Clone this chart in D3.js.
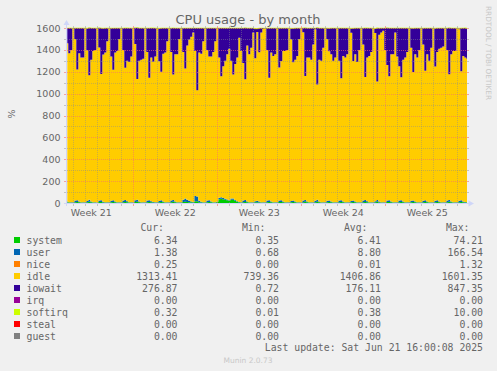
<!DOCTYPE html>
<html><head><meta charset="utf-8">
<script src="https://cdn.jsdelivr.net/npm/d3@7"></script>
<style>html,body{margin:0;padding:0;background:#F0F0F0;}svg{display:block;}</style>
</head><body>
<svg id="chart" width="497" height="371"></svg>
<script>
// ---- data ----
const titleText = "CPU usage - by month";
const yAxisLabel = "%";
const sampleStart = Date.UTC(2025, 4, 20, 12, 0); // first sample, 4-hour steps
const sampleStepHours = 4;
const viewStart = Date.UTC(2025, 4, 20, 11, 24);
const viewEnd = Date.UTC(2025, 5, 22, 19, 24);
const yMax = 1600;
const yTicks = [0, 200, 400, 600, 800, 1000, 1200, 1400, 1600];
const weekLabelPrefix = "Week ";

const system = [
 6,4,3,
 3,8,10,6,4,3,  3,7,11,6,4,3,  2,9,10,5,4,3,  3,8,9,6,4,3,  3,8,10,7,4,3,
 3,9,12,6,4,3,  3,8,10,6,5,3,  3,7,10,6,4,3,  3,8,11,6,4,3,  3,10,12,10,8,6,
 5,15,15,8,5,4,  3,8,10,6,4,3,  10,35,40,35,30,25,  20,30,30,20,10,5,  3,8,10,6,4,3,
 3,6,8,5,4,3,  3,8,10,6,4,3,  3,9,10,6,4,3,  3,7,9,6,4,3,  3,8,11,6,4,3,
 3,7,12,6,4,3,  3,8,9,6,4,3,  3,8,10,6,4,3,  3,7,9,6,4,3,  3,8,10,7,4,3,
 3,6,11,5,4,3,  3,9,10,6,4,3,  3,8,10,6,4,3,  3,8,9,6,4,3,  3,7,10,6,4,3,
 3,8,10,6,4,3,  3,8,11,6,4,3,  3,7,10,6,5,6
];
const user = [
 8,4,3,
 3,14,16,8,4,3,  3,12,18,8,4,3,  3,15,15,7,4,3,  3,13,16,8,4,3,  3,14,17,8,4,3,
 3,16,18,8,4,3,  3,14,16,9,4,3,  3,12,15,8,4,3,  3,14,16,8,4,3,  3,20,30,20,12,8,
 5,50,45,12,6,4,  3,14,16,8,4,3,  4,12,12,10,8,6,  6,12,12,8,6,4,  3,14,18,8,4,3,
 3,10,12,8,4,3,  3,14,16,8,4,3,  3,13,15,8,4,3,  3,12,14,8,4,3,  3,15,17,8,4,3,
 3,14,18,8,4,3,  3,13,15,8,4,3,  3,14,16,8,4,3,  3,12,15,8,4,3,  3,14,17,8,4,3,
 3,11,16,8,4,3,  3,15,16,8,4,3,  3,14,16,8,4,3,  3,13,15,8,4,3,  3,14,16,8,4,3,
 3,12,16,8,4,3,  3,14,17,8,4,3,  3,13,15,8,4,1
];
const idle = [
 1446,1362,1394,
 1592,1478,1194,1356,1322,1324,  1592,1378,1139,1296,1382,1394,  1592,1398,1154,1346,1367,1474,
 1592,1318,1194,1361,1382,1494,  1592,1378,1209,1286,1282,1334,  1592,1428,1104,1286,1302,1314,
 1592,1358,1119,1316,1282,1334,  1592,1278,1174,1351,1367,1474,  1592,1358,1149,1346,1352,1494,
 1592,1350,1188,1410,1475,1506,  1550,1325,970,1355,1354,1472,   1592,1378,1314,1326,1372,1474,
 1584,1283,1108,1205,1262,1329,  1384,1258,1133,1242,1314,1501,  1384,1258,1104,1426,1352,1414,
 1554,1308,1544,1366,1552,1584,  1592,1378,1119,1361,1337,1354,  1592,1218,1274,1376,1382,1394,
 1592,1478,1264,1296,1337,1494,  1592,1538,1134,1316,1322,1304,  1444,1568,1054,1296,1292,1414,
 1592,1478,1364,1346,1292,1324,  1592,1278,1114,1331,1322,1354,  1592,1538,1274,1346,1282,1394,
 1592,1428,1124,1316,1337,1374,  1592,1538,1084,1526,1552,1569,  1394,1238,1134,1346,1352,1554,
 1334,1228,1124,1296,1322,1374,  1592,1398,1174,1346,1322,1394,  1592,1428,1184,1346,1292,1414,
 1592,1228,1354,1396,1412,1424,  1592,1378,1149,1346,1382,1384,  1592,1568,1179,1331,1322,1313
];
const iowait = [
 140,230,200,
 2,100,380,230,270,270,  2,200,435,290,210,200,  2,180,420,240,225,120,
 2,260,380,225,210,100,  2,200,365,300,310,260,  2,150,470,300,290,280,
 2,220,455,270,310,260,  2,300,400,235,225,120,  2,220,425,240,240,100,
 2,220,370,160,105,80,   40,210,570,225,235,120, 2,200,260,260,220,120,
 2,270,440,350,300,240,  190,300,425,330,270,90, 210,320,470,160,240,180,
 40,270,30,220,40,10,    2,200,455,225,255,240,  2,360,300,210,210,200,
 2,100,310,290,255,100,  2,40,440,270,270,290,   150,10,520,290,300,180,
 2,100,210,240,300,270,  2,300,460,255,270,240,  2,40,300,240,310,200,
 2,150,450,270,255,220,  2,40,490,60,40,25,      200,340,440,240,240,40,
 260,350,450,290,270,220, 2,180,400,240,270,200,  2,150,390,240,300,180,
 2,350,220,190,180,170,  2,200,425,240,210,210,  2,10,395,255,270,277
];
const softirq = [
 0.4,0.3,0.3,
 0.3,0.5,0.6,0.4,0.3,0.3,  0.3,0.5,0.7,0.4,0.3,0.3,  0.3,0.4,0.6,0.4,0.3,0.3,
 0.3,0.5,0.6,0.4,0.3,0.3,  0.3,0.5,0.5,0.4,0.3,0.3,  0.3,0.6,0.7,0.4,0.3,0.3,
 0.3,0.5,0.6,0.4,0.3,0.3,  0.3,0.4,0.6,0.4,0.3,0.3,  0.3,0.5,0.6,0.4,0.3,0.3,
 0.3,0.6,0.8,0.5,0.4,0.3,  0.3,0.9,0.9,0.5,0.3,0.3,  0.3,0.5,0.6,0.4,0.3,0.3,
 0.3,0.7,0.8,0.6,0.5,0.4,  0.4,0.6,0.6,0.5,0.3,0.3,  0.3,0.5,0.6,0.4,0.3,0.3,
 0.3,0.4,0.4,0.4,0.3,0.3,  0.3,0.5,0.6,0.4,0.3,0.3,  0.3,0.5,0.6,0.4,0.3,0.3,
 0.3,0.4,0.5,0.4,0.3,0.3,  0.3,0.5,0.6,0.4,0.3,0.3,  0.3,0.5,0.7,0.4,0.3,0.3,
 0.3,0.4,0.5,0.4,0.3,0.3,  0.3,0.5,0.6,0.4,0.3,0.3,  0.3,0.4,0.5,0.4,0.3,0.3,
 0.3,0.5,0.6,0.4,0.3,0.3,  0.3,0.4,0.6,0.4,0.3,0.3,  0.3,0.5,0.6,0.4,0.3,0.3,
 0.3,0.5,0.6,0.4,0.3,0.3,  0.3,0.5,0.6,0.4,0.3,0.3,  0.3,0.5,0.6,0.4,0.3,0.3,
 0.3,0.5,0.5,0.4,0.3,0.3,  0.3,0.5,0.6,0.4,0.3,0.3,  0.3,0.4,0.6,0.4,0.3,0.32
];

const legendNames  = ["system","user","nice","idle","iowait","irq","softirq","steal","guest"];
const legendColors = ["#00CC00","#0066B3","#FF8000","#FFCC00","#330099","#990099","#CCFF00","#FF0000","#808080"];
const curValues = ["6.34","1.38","0.25","1313.41","276.87","0.00","0.32","0.00","0.00"];
const minValues = ["0.35","0.68","0.00","739.36","0.72","0.00","0.01","0.00","0.00"];
const avgValues = ["6.41","8.80","0.01","1406.86","176.11","0.00","0.38","0.00","0.00"];
const maxValues = ["74.21","166.54","1.32","1601.35","847.35","0.00","10.00","0.00","0.00"];
const columnHeaders = ["Cur:","Min:","Avg:","Max:"];
const lastUpdateText = "Last update: Sat Jun 21 16:00:08 2025";
const versionText = "Munin 2.0.73";
const watermarkText = "RRDTOOL / TOBI OETIKER";

// ---- layout ----
const W = 497, H = 371;
const plot = {left: 67, right: 467, top: 28, bottom: 203};
const fontSans = "'DejaVu Sans', sans-serif";
const fontMono = "'DejaVu Sans Mono', monospace";
const fontColor = "#666666";
const axisColor = "#CFD6F8";
const gridColor = "rgba(140,140,140,0.45)";
const mgridColor = "rgba(244,110,110,0.6)";

const svg = d3.select("#chart");
svg.append("rect").attr("width", W).attr("height", H).attr("fill", "#F0F0F0");
svg.append("rect").attr("x", plot.left).attr("y", plot.top)
  .attr("width", plot.right - plot.left).attr("height", plot.bottom - plot.top).attr("fill", "#FFFFFF");

const x = d3.scaleUtc().domain([new Date(viewStart), new Date(viewEnd)]).range([plot.left, plot.right]);
const y = d3.scaleLinear().domain([0, yMax]).range([plot.bottom, plot.top]);

const stackKeys = ["system","user","idle","iowait","softirq"];
const stackColors = {system:"#00CC00", user:"#0066B3", idle:"#FFCC00", iowait:"#330099", softirq:"#CCFF00"};
const seriesData = {system, user, idle, iowait, softirq};
const rows = idle.map((_, i) => {
  const r = {t: new Date(sampleStart + i * sampleStepHours * 3600e3)};
  stackKeys.forEach(k => r[k] = seriesData[k][i]);
  return r;
});
const stacked = d3.stack().keys(stackKeys)(rows);

svg.append("clipPath").attr("id", "clip").append("rect")
  .attr("x", plot.left).attr("y", plot.top - 0.6)
  .attr("width", plot.right - plot.left).attr("height", plot.bottom - plot.top + 0.6);

const g = svg.append("g").attr("clip-path", "url(#clip)");
const area = d3.area().curve(d3.curveStep)
  .x(d => x(d.data.t)).y0(d => y(d[0])).y1(d => y(d[1]));
g.selectAll("path.layer").data(stacked).join("path")
  .attr("class", "layer")
  .attr("fill", d => stackColors[d.key])
  .attr("d", area);
// softirq is tiny; show its edge on top of the stack
const topLine = d3.line().curve(d3.curveStep).x(d => x(d.data.t)).y(d => y(d[1]));
g.append("path").datum(stacked[stacked.length - 1])
  .attr("fill", "none").attr("stroke", "#CCFF00").attr("stroke-width", 1)
  .attr("d", topLine);

// ---- grid ----
const grid = svg.append("g");
const hMinor = d3.range(0, yMax + 1, 100);
hMinor.forEach(v => {
  const major = yTicks.includes(v);
  const yy = Math.round(y(v)) + 0.5;
  const c = major ? mgridColor : gridColor;
  grid.append("line").attr("x1", plot.left).attr("x2", plot.right).attr("y1", yy).attr("y2", yy)
    .attr("stroke", c).attr("stroke-dasharray", "1,1");
  grid.append("line").attr("x1", plot.left - 3).attr("x2", plot.left).attr("y1", yy).attr("y2", yy).attr("stroke", c);
  grid.append("line").attr("x1", plot.right).attr("x2", plot.right + 2).attr("y1", yy).attr("y2", yy).attr("stroke", c);
});
const days = d3.utcDay.range(x.domain()[0], x.domain()[1]);
days.forEach(d => {
  const major = d.getUTCDay() === 1;
  const xx = Math.round(x(d)) + 0.5;
  const c = major ? mgridColor : gridColor;
  grid.append("line").attr("x1", xx).attr("x2", xx).attr("y1", plot.top).attr("y2", plot.bottom)
    .attr("stroke", c).attr("stroke-dasharray", "1,1");
  grid.append("line").attr("x1", xx).attr("x2", xx).attr("y1", plot.bottom).attr("y2", plot.bottom + 3).attr("stroke", c);
  grid.append("line").attr("x1", xx).attr("x2", xx).attr("y1", plot.top - 2).attr("y2", plot.top).attr("stroke", c);
});

// ---- axes ----
svg.append("line").attr("x1", plot.left - 3).attr("x2", plot.right + 4)
  .attr("y1", plot.bottom + 0.5).attr("y2", plot.bottom + 0.5).attr("stroke", axisColor);
svg.append("line").attr("x1", plot.left - 0.5).attr("x2", plot.left - 0.5)
  .attr("y1", plot.bottom + 3).attr("y2", plot.top - 4).attr("stroke", axisColor);
svg.append("path").attr("d", `M${plot.right + 1.5},${plot.bottom - 2.5}L${plot.right + 7},${plot.bottom + 0.5}L${plot.right + 1.5},${plot.bottom + 3.5}Z`).attr("fill", axisColor);
svg.append("path").attr("d", `M${plot.left - 3.5},${plot.top - 3}L${plot.left - 0.5},${plot.top - 8}L${plot.left + 2.5},${plot.top - 3}Z`).attr("fill", axisColor);

// y tick labels
svg.append("g").selectAll("text").data(yTicks).join("text")
  .attr("x", plot.left - 6.5).attr("y", v => y(v) + 3.6)
  .attr("text-anchor", "end").attr("font-family", fontSans).attr("font-size", 9.5)
  .attr("fill", fontColor).text(v => v);

// week labels
const mondays = d3.utcMonday.range(d3.utcMonday.floor(x.domain()[0]), x.domain()[1]);
const weekFmt = d3.utcFormat("%V");
svg.append("g").selectAll("text").data(mondays.filter(m => {
    const c = x(new Date(+m + 3.5 * 864e5)); return c > plot.left && c < plot.right; }))
  .join("text")
  .attr("x", m => x(new Date(+m + 3.5 * 864e5))).attr("y", 215.8)
  .attr("text-anchor", "middle").attr("font-family", fontSans).attr("font-size", 9.5)
  .attr("fill", fontColor).text(m => weekLabelPrefix + weekFmt(m));

// title
svg.append("text").attr("x", 248).attr("y", 24).attr("text-anchor", "middle")
  .attr("font-family", fontSans).attr("font-size", 13).attr("fill", fontColor).text(titleText);
// y label
svg.append("text").attr("transform", "translate(14.5,114) rotate(-90)").attr("text-anchor", "middle")
  .attr("font-family", fontSans).attr("font-size", 9.5).attr("fill", fontColor).text(yAxisLabel);
// watermark
svg.append("text").attr("transform", "translate(485.5,53) rotate(90)").attr("text-anchor", "middle")
  .attr("font-family", fontSans).attr("font-size", 7.3).attr("fill", "#C8C8C8").text(watermarkText);

// ---- legend ----
const lg = svg.append("g").attr("font-family", fontMono).attr("font-size", 9.8).attr("fill", fontColor);
const colRight = [177.5, 279, 381, 483];
columnHeaders.forEach((h, i) => {
  lg.append("text").attr("x", colRight[i] - 13.5).attr("y", 230.9).attr("text-anchor", "end").text(h);
});
const cols = [curValues, minValues, avgValues, maxValues];
legendNames.forEach((n, i) => {
  const cy = 240 + 12 * i;
  lg.append("rect").attr("x", 14).attr("y", cy - 3).attr("width", 6).attr("height", 6).attr("fill", legendColors[i]);
  lg.append("text").attr("x", 26.5).attr("y", cy + 3.6).text(n);
  cols.forEach((c, j) => {
    lg.append("text").attr("x", colRight[j]).attr("y", cy + 3.6).attr("text-anchor", "end").text(c[i]);
  });
});
lg.append("text").attr("x", 483).attr("y", 350.9).attr("text-anchor", "end").text(lastUpdateText);
svg.append("text").attr("x", 248).attr("y", 362.5).attr("text-anchor", "middle")
  .attr("font-family", fontSans).attr("font-size", 7.5).attr("fill", "#C8C8C8").text(versionText);
</script>
</body></html>
